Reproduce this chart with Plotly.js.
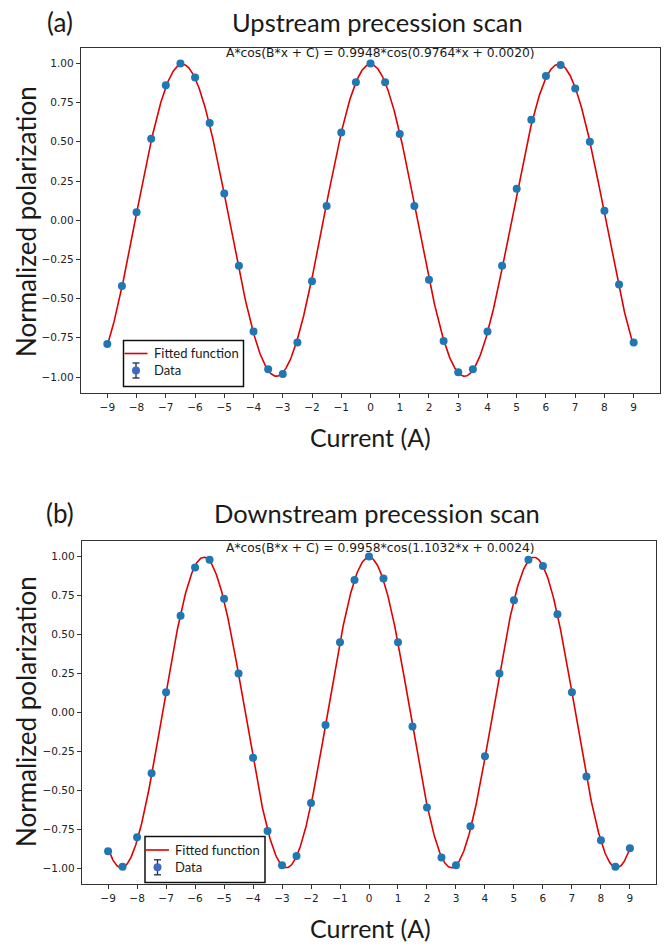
<!DOCTYPE html>
<html>
<head>
<meta charset="utf-8">
<script src="https://cdn.plot.ly/plotly-3.0.1.min.js"></script>
<style>
html,body{margin:0;padding:0;background:#fff;}
#chart{width:668px;height:945px;}
</style>
</head>
<body>
<div id="chart"></div>
<script>
// ---- Data ----
const currentA = [-9,-8.5,-8,-7.5,-7,-6.5,-6,-5.5,-5,-4.5,-4,-3.5,-3,-2.5,-2,-1.5,-1,-0.5,0,0.5,1,1.5,2,2.5,3,3.5,4,4.5,5,5.5,6,6.5,7,7.5,8,8.5,9];
const upstreamPol = [-0.79,-0.42,0.05,0.52,0.86,1.00,0.91,0.62,0.17,-0.29,-0.71,-0.95,-0.98,-0.78,-0.39,0.09,0.56,0.88,1.00,0.88,0.55,0.09,-0.38,-0.77,-0.97,-0.95,-0.71,-0.29,0.20,0.64,0.92,0.99,0.84,0.50,0.06,-0.41,-0.78];
const downstreamPol = [-0.89,-0.99,-0.80,-0.39,0.13,0.62,0.93,0.98,0.73,0.25,-0.29,-0.76,-0.98,-0.92,-0.58,-0.08,0.45,0.85,1.00,0.86,0.45,-0.09,-0.61,-0.93,-0.98,-0.73,-0.28,0.25,0.72,0.98,0.94,0.63,0.13,-0.41,-0.82,-0.99,-0.87];
// Fit parameters (A*cos(B*x + C)) as printed on the chart
const upFit = {A:0.9948, B:0.9764, C:0.0020};
const downFit = {A:0.9958, B:1.1032, C:0.0024};
const xTicks = [-9,-8,-7,-6,-5,-4,-3,-2,-1,0,1,2,3,4,5,6,7,8,9];
const yTicks = [-1.00,-0.75,-0.50,-0.25,0.00,0.25,0.50,0.75,1.00];
const panelTitles = ["Upstream precession scan","Downstream precession scan"];
const panelLabels = ["(a)","(b)"];
const legendLabels = ["Fitted function","Data"];

// ---- fitted curves (evaluated from the printed fit function) ----
function fitCurve(p){
  const xs=[], ys=[];
  for(let i=0;i<=900;i++){ const x=-9+i*0.02; xs.push(x); ys.push(p.A*Math.cos(p.B*x+p.C)); }
  return {xs, ys};
}
const upC = fitCurve(upFit), dnC = fitCurve(downFit);

const W=668, H=945;
const px = x => x/W;
const py = y => 1 - y/H;

const blue = '#1f77b4';
const traces = [
  {x:upC.xs, y:upC.ys, type:'scatter', mode:'lines', line:{color:'#e00000', width:1.6}, xaxis:'x', yaxis:'y', showlegend:false, hoverinfo:'skip'},
  {x:currentA, y:upstreamPol, type:'scatter', mode:'markers', marker:{color:blue, size:8}, xaxis:'x', yaxis:'y', showlegend:false},
  {x:dnC.xs, y:dnC.ys, type:'scatter', mode:'lines', line:{color:'#e00000', width:1.6}, xaxis:'x2', yaxis:'y2', showlegend:false, hoverinfo:'skip'},
  {x:currentA, y:downstreamPol, type:'scatter', mode:'markers', marker:{color:blue, size:8}, xaxis:'x2', yaxis:'y2', showlegend:false}
];

const tickFont = {family:'DejaVu Sans', size:10.5, color:'#222'};
function xax(domain, anchor){
  return {domain, anchor, range:[-9.9,9.9], tickmode:'array', tickvals:xTicks, ticktext:xTicks.map(v=>v<0?'\u2212'+Math.abs(v):String(v)),
    showline:true, mirror:true, linecolor:'#333', linewidth:1.2, ticks:'outside', ticklen:4, tickcolor:'#333',
    showgrid:false, zeroline:false, tickfont:tickFont, fixedrange:true};
}
function yax(domain, anchor){
  return {domain, anchor, range:[-1.1,1.1], tickmode:'array', tickvals:yTicks, ticktext:yTicks.map(v=>(v<0?'\u2212':'')+Math.abs(v).toFixed(2)),
    showline:true, mirror:true, linecolor:'#333', linewidth:1.2, ticks:'outside', ticklen:4, tickcolor:'#333',
    showgrid:false, zeroline:false, tickfont:tickFont, fixedrange:true};
}

const titleFont = {family:'Lato, Open Sans, sans-serif', size:25.5, color:'#1a1a1a'};
const annotations = [];
const shapes = [];
function panel(label, title, formula, topY, xCenter, curY, yTitleCenter, formulaY){
  annotations.push({xref:'paper', yref:'paper', x:px(60), y:py(topY), text:label, showarrow:false, xanchor:'center', yanchor:'middle', font:{family:'Lato, sans-serif', size:26, color:'#1a1a1a'}});
  annotations.push({xref:'paper', yref:'paper', x:px(xCenter), y:py(topY), text:title, showarrow:false, xanchor:'center', yanchor:'middle', font:titleFont});
  annotations.push({xref:'paper', yref:'paper', x:px(380), y:py(formulaY), text:formula, showarrow:false, xanchor:'center', yanchor:'middle', font:{family:'DejaVu Sans', size:12.3, color:'#1a1a1a'}});
  annotations.push({xref:'paper', yref:'paper', x:px(370), y:py(curY), text:'Current (A)', showarrow:false, xanchor:'center', yanchor:'middle', font:{family:'Lato, sans-serif', size:25, color:'#1a1a1a'}});
  annotations.push({xref:'paper', yref:'paper', x:px(26), y:py(yTitleCenter), text:'Normalized polarization', textangle:-90, showarrow:false, xanchor:'center', yanchor:'middle', font:{family:'Lato, sans-serif', size:26, color:'#1a1a1a'}});
}
panel(panelLabels[0], panelTitles[0], 'A*cos(B*x + C) = '+upFit.A.toFixed(4)+'*cos('+upFit.B.toFixed(4)+'*x + '+upFit.C.toFixed(4)+')', 22, 377, 437, 222, 53);
panel(panelLabels[1], panelTitles[1], 'A*cos(B*x + C) = '+downFit.A.toFixed(4)+'*cos('+downFit.B.toFixed(4)+'*x + '+downFit.C.toFixed(4)+')', 513, 377, 928, 712, 548);

function legend(x0, y0, x1, y1, lineY, dataY){
  shapes.push({type:'rect', xref:'paper', yref:'paper', x0:px(x0), x1:px(x1), y0:py(y0), y1:py(y1), line:{color:'#111', width:1.5}, fillcolor:'#fff'});
  shapes.push({type:'line', xref:'paper', yref:'paper', x0:px(x0+1), x1:px(x0+24), y0:py(lineY), y1:py(lineY), line:{color:'#e00000', width:1.6}});
  const mx = x0+12.5;
  shapes.push({type:'line', xref:'paper', yref:'paper', x0:px(mx), x1:px(mx), y0:py(dataY-7.5), y1:py(dataY+7.5), line:{color:'#1a2a4a', width:1.3}});
  shapes.push({type:'line', xref:'paper', yref:'paper', x0:px(mx-3.5), x1:px(mx+3.5), y0:py(dataY-7.5), y1:py(dataY-7.5), line:{color:'#1a2a4a', width:1.3}});
  shapes.push({type:'line', xref:'paper', yref:'paper', x0:px(mx-3.5), x1:px(mx+3.5), y0:py(dataY+7.5), y1:py(dataY+7.5), line:{color:'#1a2a4a', width:1.3}});
  shapes.push({type:'circle', xref:'paper', yref:'paper', x0:px(mx-4), x1:px(mx+4), y0:py(dataY-4), y1:py(dataY+4), line:{color:'#3d6cc0', width:0}, fillcolor:'#3d6cc0'});
  annotations.push({xref:'paper', yref:'paper', x:px(x0+28), y:py(lineY), text:legendLabels[0], showarrow:false, xanchor:'left', yanchor:'middle', font:{family:'Lato, sans-serif', size:13, color:'#1a1a1a'}});
  annotations.push({xref:'paper', yref:'paper', x:px(x0+28), y:py(dataY), text:legendLabels[1], showarrow:false, xanchor:'left', yanchor:'middle', font:{family:'Lato, sans-serif', size:13, color:'#1a1a1a'}});
}
legend(123.5, 340.5, 243.5, 386.5, 353.5, 370.5);
legend(145, 836.5, 265, 882.5, 850, 867.3);

const layout = {
  width:W, height:H,
  margin:{l:0, r:0, t:0, b:0},
  paper_bgcolor:'#fff', plot_bgcolor:'#fff',
  showlegend:false,
  xaxis: xax([px(81), px(660)], 'y'),
  yaxis: yax([py(392.7), py(47.7)], 'x'),
  xaxis2: xax([px(82), px(656)], 'y2'),
  yaxis2: yax([py(884), py(541)], 'x2'),
  annotations, shapes
};
Plotly.newPlot('chart', traces, layout, {staticPlot:true, displayModeBar:false});
</script>
</body>
</html>
